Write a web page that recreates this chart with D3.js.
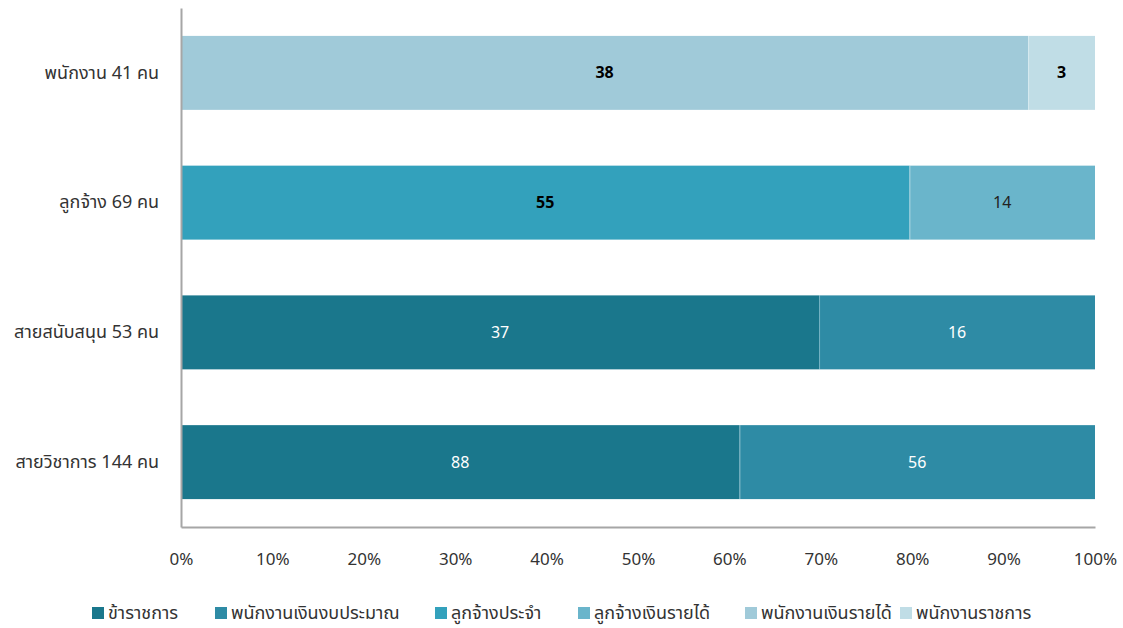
<!DOCTYPE html>
<html>
<head>
<meta charset="utf-8">
<script src="https://cdn.jsdelivr.net/npm/d3@7"></script>
<style>
  body { margin: 0; background: #fff; }
  svg text { font-family: Tahoma, "Noto Sans", "Noto Sans Thai", "DejaVu Sans", sans-serif; }
</style>
</head>
<body>
<div id="chart"></div>
<script>
'use strict';
// categories, bottom to top as drawn
var categories = ['สายวิชาการ 144 คน', 'สายสนับสนุน 53 คน', 'ลูกจ้าง 69 คน', 'พนักงาน 41 คน'];
var seriesNames = ['ข้าราชการ', 'พนักงานเงินงบประมาณ', 'ลูกจ้างประจำ', 'ลูกจ้างเงินรายได้', 'พนักงานเงินรายได้', 'พนักงานราชการ'];
var seriesColors = ['#1a778c', '#2e8ba5', '#33a1bc', '#6ab5cb', '#a0cad9', '#c0dde6'];
// values per series, in category order
var kharatchakan = [88, 37, 0, 0];
var phanakngan_ngop = [56, 16, 0, 0];
var lukchang_prajam = [0, 0, 55, 0];
var lukchang_raidai = [0, 0, 14, 0];
var phanakngan_raidai = [0, 0, 0, 38];
var phanakngan_ratchakan = [0, 0, 0, 3];
var seriesValues = [kharatchakan, phanakngan_ngop, lukchang_prajam, lukchang_raidai, phanakngan_raidai, phanakngan_ratchakan];
var tickLabels = ['0%', '10%', '20%', '30%', '40%', '50%', '60%', '70%', '80%', '90%', '100%'];
// label colour per series (white on dark, black on light)
var labelStyle = [
  {fill: '#fff', weight: 'normal'},
  {fill: '#fff', weight: 'normal'},
  {fill: '#000', weight: 'bold'},
  {fill: '#222', weight: 'normal'},
  {fill: '#000', weight: 'bold'},
  {fill: '#000', weight: 'bold'}
];

var W = 1123, H = 628;
var margin = {top: 8, right: 28, bottom: 101, left: 181};
var width = W - margin.left - margin.right,
  height = H - margin.top - margin.bottom;

var svg = d3.select('#chart').append('svg')
  .attr('width', W)
  .attr('height', H);

var g = svg.append('g')
  .attr('transform', 'translate(' + margin.left + ',' + margin.top + ')');

var x = d3.scaleLinear().domain([0, 1]).range([0, width]);
var y = d3.scaleBand()
  .domain(categories.slice().reverse())
  .range([0, height])
  .paddingInner(0.43)
  .paddingOuter(0.215);

// build stacked rows as share of totals
var rows = categories.map(function(c, i) {
  var total = d3.sum(seriesValues, function(s) { return s[i]; });
  var acc = 0;
  var segs = [];
  seriesValues.forEach(function(s, k) {
    var v = s[i];
    if (v > 0) {
      segs.push({cat: c, series: k, value: v, x0: acc / total, x1: (acc + v) / total});
      acc += v;
    }
  });
  return segs;
});
var segments = d3.merge(rows);

g.selectAll('.bar')
  .data(segments)
  .enter().append('rect')
  .attr('class', 'bar')
  .attr('x', function(d) { return x(d.x0) + (d.x0 === 0 ? 1 : 0); })
  .attr('width', function(d) { return x(d.x1) - x(d.x0) - (d.x0 === 0 ? 1 : 0); })
  .attr('y', function(d) { return y(d.cat); })
  .attr('height', y.bandwidth())
  .attr('fill', function(d) { return seriesColors[d.series]; });

// faint separators between segments
g.selectAll('.sep')
  .data(segments.filter(function(d) { return d.x0 > 0; }))
  .enter().append('line')
  .attr('x1', function(d) { return x(d.x0) + 0.5; })
  .attr('x2', function(d) { return x(d.x0) + 0.5; })
  .attr('y1', function(d) { return y(d.cat); })
  .attr('y2', function(d) { return y(d.cat) + y.bandwidth(); })
  .attr('stroke', '#ffffff')
  .attr('stroke-opacity', 0.3);

g.selectAll('.lbl')
  .data(segments)
  .enter().append('text')
  .attr('class', 'lbl')
  .attr('x', function(d) { return (x(d.x0) + x(d.x1)) / 2; })
  .attr('y', function(d) { return y(d.cat) + y.bandwidth() / 2; })
  .attr('dy', '0.35em')
  .attr('text-anchor', 'middle')
  .style('font-size', '16px')
  .attr('fill', function(d) { return labelStyle[d.series].fill; })
  .attr('font-weight', function(d) { return labelStyle[d.series].weight; })
  .text(function(d) { return d.value; });

// axes
var xAxis = g.append('g')
  .attr('transform', 'translate(0,' + height + ')')
  .call(d3.axisBottom(x)
    .tickValues(d3.range(tickLabels.length).map(function(i) { return i / 10; }))
    .tickFormat(function(d, i) { return tickLabels[i]; })
    .tickSize(0)
    .tickPadding(26));
xAxis.select('.domain').attr('stroke', '#a6a6a6').attr('stroke-width', 2);
xAxis.selectAll('text').style('font-size', '17px').attr('fill', '#333');

var yAxis = g.append('g')
  .call(d3.axisLeft(y).tickSize(0).tickPadding(22));
yAxis.select('.domain').attr('stroke', '#a6a6a6').attr('stroke-width', 2);
yAxis.selectAll('text').style('font-size', '18px').attr('fill', '#333');

// legend
var legendX = [92, 215, 435, 578, 745, 900];
var legend = svg.append('g').attr('transform', 'translate(0,613)');
var items = legend.selectAll('.leg')
  .data(seriesNames)
  .enter().append('g')
  .attr('class', 'leg')
  .attr('transform', function(d, i) { return 'translate(' + legendX[i] + ',0)'; });
items.append('rect')
  .attr('x', 0).attr('y', -6)
  .attr('width', 12).attr('height', 12)
  .attr('fill', function(d, i) { return seriesColors[i]; });
items.append('text')
  .attr('x', 16).attr('y', 0).attr('dy', '0.35em')
  .style('font-size', '18px')
  .attr('fill', '#333')
  .text(function(d) { return d; });
</script>
</body>
</html>
